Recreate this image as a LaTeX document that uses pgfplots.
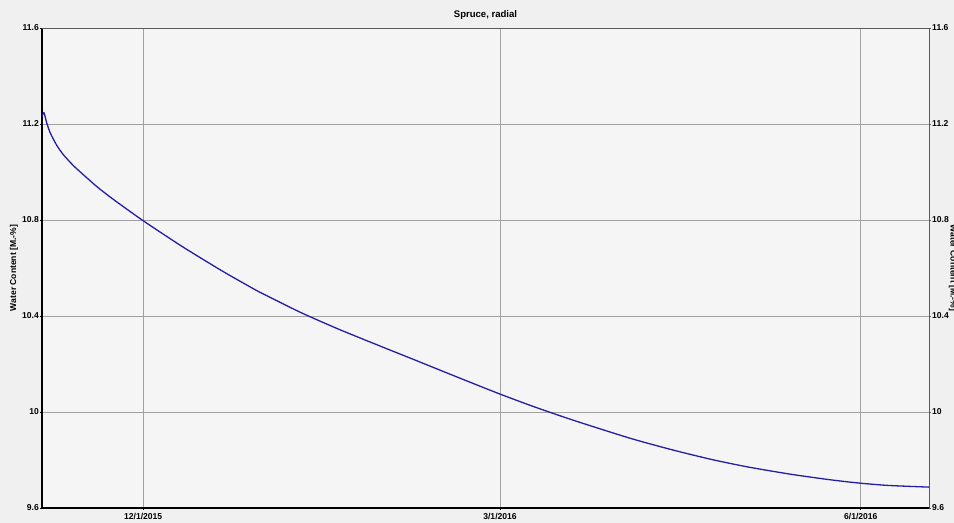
\documentclass[border=0pt]{standalone}
\usepackage{fontspec}
\setmainfont{Liberation Sans}
\usepackage{pgfplots}
\pgfplotsset{compat=1.18}

\definecolor{bg}{RGB}{240,240,240}
\definecolor{plotbg}{RGB}{245,245,245}
\definecolor{curve}{RGB}{35,30,165}
\definecolor{gridc}{RGB}{160,160,160}
\definecolor{framec}{RGB}{90,90,90}

\newcommand{\chartfont}{\fontsize{8.6}{10}\selectfont\bfseries}

\begin{document}
\begin{tikzpicture}[x=1bp,y=1bp]
\fill[bg] (-42,-15) rectangle (912,508);

% main axis: days counted from 12/1/2015
\begin{axis}[
  at={(0,0)}, anchor=south west,
  width=887bp, height=480bp, scale only axis,
  xmin=-25.8, xmax=200.4, ymin=9.6, ymax=11.6,
  axis lines*=left,
  xtick={0,91,183}, xticklabels={12/1/2015,3/1/2016,6/1/2016},
  ytick={9.6,10,10.4,10.8,11.2,11.6},
  yticklabels={9.6,10,10.4,10.8,11.2,11.6},
  grid=major, major grid style={gridc, line width=0.7bp},
  axis background/.style={fill=plotbg},
  axis line style={black, line width=1.4bp},
  tick style={black, line width=0.6bp},
  major tick length=2bp, tick align=outside,
  ticklabel style={font=\chartfont},
  xticklabel style={inner sep=1.5bp, yshift=-2bp},
  yticklabel style={inner sep=1bp},
  every axis title shift=0pt,
  title={Spruce, radial},
  title style={font=\fontsize{9.6}{11}\selectfont\bfseries, at={(0.5,1)}, anchor=south, yshift=8bp, inner sep=0pt},
  ylabel={Water Content [M.-\%]},
  ylabel style={font=\chartfont, at={(axis description cs:-0.0316,0.5)}, anchor=center},
]
\addplot[curve, line width=1.3bp, smooth, tension=0.4] coordinates {
  (-25.8,11.232) (-25.3,11.247) (-24.6,11.205) (-23.7,11.163) (-22.0,11.110)
  (-20.3,11.071) (-18.0,11.030) (-16.1,11.001) (-11.8,10.939) (-7.7,10.887)
  (0,10.797) (10,10.689) (20,10.589) (27.3,10.521) (30,10.497) (40,10.416)
  (50,10.344) (61.3,10.269) (70,10.212) (80,10.146) (91.1,10.074)
  (100,10.020) (110,9.964) (124.3,9.890) (135,9.842) (145,9.802)
  (154.2,9.771) (165,9.741) (175,9.718) (182.5,9.704) (190,9.694)
  (200.4,9.687)
};
\end{axis}

% mirrored right-hand axis and top frame line
\begin{axis}[
  at={(0,0)}, anchor=south west,
  width=887bp, height=480bp, scale only axis,
  xmin=-25.8, xmax=200.4, ymin=9.6, ymax=11.6,
  axis x line*=top, axis y line*=right,
  xtick=\empty,
  ytick={9.6,10,10.4,10.8,11.2,11.6},
  yticklabels={9.6,10,10.4,10.8,11.2,11.6},
  axis line style={framec, line width=0.9bp},
  tick style={framec, line width=0.6bp},
  major tick length=2bp, tick align=outside,
  ticklabel style={font=\chartfont},
  yticklabel style={inner sep=1bp},
  ylabel={Water Content [M.-\%]},
  ylabel style={font=\chartfont, at={(axis description cs:1.027,0.5)}, anchor=center, rotate=180},
]
\end{axis}

\pgfresetboundingbox
\path (-42,-15) rectangle (912,508);
\end{tikzpicture}
\end{document}
